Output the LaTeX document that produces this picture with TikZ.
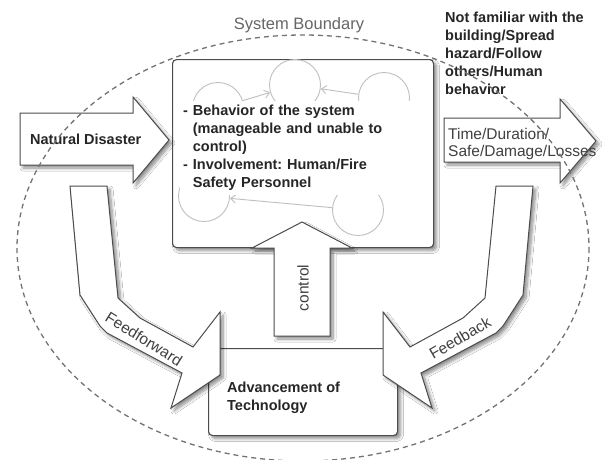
\documentclass[tikz,border=0pt]{standalone}
\usepackage{fontspec}
\setmainfont{Liberation Sans}
\usetikzlibrary{arrows.meta, shadows.blur}
\frenchspacing

\begin{document}
\begin{tikzpicture}[x=1pt, y=-1pt,
    txt/.style={font=\fontsize{14.5}{18}\selectfont\bfseries, text=black!85, align=left, inner sep=0pt},
    plain/.style={font=\fontsize{15.5}{17}\selectfont, text=black!75, align=left, inner sep=0pt},
    soft/.style={blur shadow={shadow xshift=3pt, shadow yshift=-3pt, shadow blur steps=8, shadow blur radius=3pt, shadow opacity=45}},
    panel/.style={draw=black!70, line width=1.1pt, fill=white, rounded corners=4pt, soft},
    fat/.style={draw=black!70, line width=1pt, fill=white, line join=miter, soft},
    bubble/.style={circle, draw=black!25, line width=0.9pt, minimum size=51pt, inner sep=0pt},
    link/.style={draw=black!25, line width=0.9pt, -{Straight Barb[length=5pt,width=8pt]}},
  ]
    \fill[white] (0,0) rectangle (604,459);
    \useasboundingbox (0,0) rectangle (604,459);

    % the system in the middle
    \node[panel, anchor=north west, minimum width=261pt, minimum height=188pt] (system) at (172,59) {};
    \node[bubble] (b1) at (218,108) {};
    \node[bubble] (b2) at (295,85) {};
    \node[bubble] (b3) at (384,98) {};
    \node[bubble] (b4) at (358,210) {};
    \node[bubble] (b5) at (204,196) {};
    \draw[link] (b1) -- (b2);
    \draw[link] (b3) -- (b2);
    \draw[link] (b4) -- (b5);
    \node[txt, fill=white, anchor=north west, inner xsep=3pt, inner ysep=4pt, text width=226pt] (behaviour) at (180,101)
        {- Behavior of the system\\\hphantom{-~}(manageable and unable to\\\hphantom{-~}control)\\- Involvement: Human/Fire\\\hphantom{-~}Safety Personnel};

    % control arrow
    \draw[fat] (302,222) -- (352,248) -- (330,248) -- (330,336) -- (274,336) -- (274,248) -- (252,248) -- cycle;
    \node[plain, rotate=90] (ctrl) at (303,288) {control};

    % technology box
    \node[panel, anchor=north west, minimum width=189pt, minimum height=87pt] (techbox) at (208,348) {};
    \node[txt, anchor=north west] (tech) at (227,382) {Advancement of\\Technology};

    % feedforward and feedback
    \draw[fat] (70,186) -- (107,186) -- (118,298) -- (140,318) -- (193,347) -- (220,312) -- (220,375)
        -- (171,408) -- (182,373) -- (107,333) -- (100,326) -- (80,295) -- cycle;
    \node[plain, rotate=-32] (ffwd) at (144,339) {Feedforward};
    \draw[fat] (533,186) -- (496,186) -- (485,298) -- (463,318) -- (410,347) -- (383,312) -- (383,375)
        -- (432,408) -- (421,373) -- (496,333) -- (503,326) -- (523,295) -- cycle;
    \node[plain, rotate=30] (fback) at (460,338) {Feedback};

    % input and output
    \draw[fat] (20,113) -- (133,113) -- (133,97) -- (169,140) -- (133,183) -- (133,165) -- (20,165) -- cycle;
    \node[txt, anchor=west] (hazard) at (30,139) {Natural Disaster};
    \draw[fat] (444,118) -- (560,118) -- (560,99) -- (596,141) -- (560,183) -- (560,162) -- (444,162) -- cycle;
    \node[plain, anchor=north west] (outcome) at (448,128) {Time/Duration/\\Safe/Damage/Losses};

    \node[txt, anchor=north west] (factors) at (445,12)
        {Not familiar with the\\building/Spread\\hazard/Follow\\others/Human\\behavior};

    % boundary
    \draw[black!55, line width=1.3pt, dash pattern=on 5pt off 4pt] (303,248) ellipse [x radius=286, y radius=213];
    \node[plain, font=\fontsize{16.5}{18}\selectfont, text=black!60] (boundary) at (299,25) {System Boundary};
\end{tikzpicture}
\end{document}
